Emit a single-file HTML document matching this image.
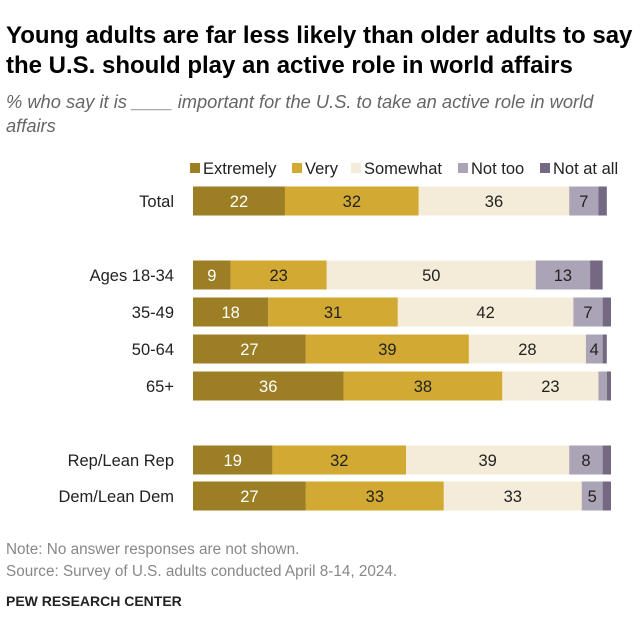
<!DOCTYPE html>
<html><head><meta charset="utf-8"><style>
body{margin:0;width:640px;height:640px;background:#fff;font-family:"Liberation Sans",sans-serif;position:relative;overflow:hidden}
.t{position:absolute;left:6px;top:21px;font-size:24px;font-weight:bold;line-height:30px;color:#000;width:634px}
.s{position:absolute;left:6px;top:90px;font-size:18.3px;font-style:italic;color:#666;line-height:24px;width:610px}
.n{position:absolute;left:6px;font-size:15.3px;color:#888}
</style></head><body>
<div class="t">Young adults are far less likely than older adults to say the U.S. should play an active role in world affairs</div>
<div class="s">% who say it is ____ important for the U.S. to take an active role in world affairs</div>
<svg id="c" width="640" height="640" style="position:absolute;left:0;top:0"></svg>
<div class="n" style="top:541px">Note: No answer responses are not shown.</div>
<div class="n" style="top:563px">Source: Survey of U.S. adults conducted April 8-14, 2024.</div>
<div class="n" style="top:593px;color:#222;font-weight:bold;font-size:14px">PEW RESEARCH CENTER</div>
<script>
const categories=["Total","Ages 18-34","35-49","50-64","65+","Rep/Lean Rep","Dem/Lean Dem"];
const seriesNames=["Extremely","Very","Somewhat","Not too","Not at all"];
const extremely=[22,9,18,27,36,19,27];
const very=[32,23,31,39,38,32,33];
const somewhat=[36,50,42,28,23,39,33];
const notToo=[7,13,7,4,2,8,5];
const notAtAll=[2,3,2,1,1,2,2];
const series=[extremely,very,somewhat,notToo,notAtAll];
const colors=["#9c7e25","#d2a932","#f4ecd8","#aba3b6","#756882"];
const textColors=["#fff","#222","#222","#222","#fff"];
const rowY=[201,275,312,349,386,460,496];
const x0=193,k=4.18,bh=29;
const xs=v=>x0+v*k;
const svg=document.getElementById('c');const NS="http://www.w3.org/2000/svg";
function mk(t,a){const e=document.createElementNS(NS,t);for(const q in a)e.setAttribute(q,a[q]);svg.appendChild(e);return e;}
const lx=[190,292,351,458,540];
seriesNames.forEach((s,i)=>{
 const r=mk('rect',{x:lx[i],y:163,width:10,height:10,fill:colors[i]});
 
 
 const t=mk('text',{x:lx[i]+13,y:174,'font-size':16.5,fill:'#222'});t.textContent=s;
 
 
});
categories.forEach((c,r)=>{
 const y=rowY[r];
 const l=mk('text',{x:174,y:y+6,'font-size':16.5,fill:'#222','text-anchor':'end'});l.textContent=c;
 
 
 let cum=0;
 series.forEach((sv,i)=>{
  const v=sv[r];
  const b=mk('rect',{x:xs(cum),y:y-bh/2,width:v*k,height:bh,fill:colors[i]});
  
  
  if(v>=4){const t=mk('text',{x:xs(cum+v/2),y:y+6,'font-size':16.5,fill:textColors[i],'text-anchor':'middle'});t.textContent=v;
   
   }
  cum+=v;
 });
});
</script>
</body></html>
